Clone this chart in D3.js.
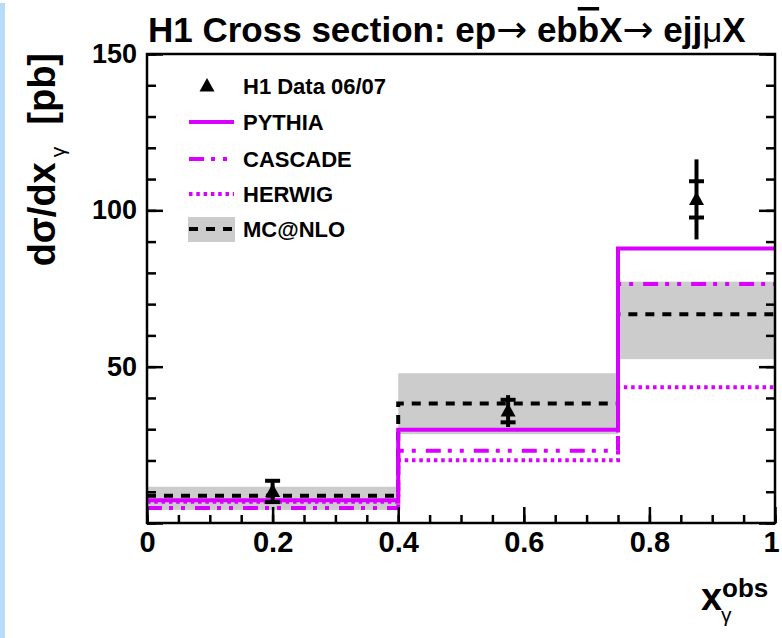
<!DOCTYPE html>
<html>
<head>
<meta charset="utf-8">
<script src="https://cdn.jsdelivr.net/npm/d3@7"></script>
<style>
  body { margin: 0; background: #fff; }
  svg { display: block; font-family: "Liberation Sans", Arial, Helvetica, sans-serif; }
</style>
</head>
<body>
<script>
// bins in x_gamma^obs
var binEdges = [0, 0.4, 0.75, 1.0];
var binCentres = [0.2, 0.575, 0.875];

// H1 data 06/07
var dataVal = [10.1, 35.8, 103.5];
var statErr = [3.4, 3.6, 5.8];
var totErr = [3.8, 5.1, 12.8];

// MC predictions
var pythia = [7.3, 29.8, 87.8];
var cascade = [4.8, 23.1, 76.4];
var herwig = [6.8, 20.1, 43.4];
var mcnlo = [8.7, 38.2, 66.8];
var mcnloLow = [4.2, 28.4, 52.4];
var mcnloHigh = [11.6, 47.9, 77.2];

var yMajor = [0, 50, 100, 150];
var yMinor = d3.range(0, 151, 10);
var xMajor = [0, 0.2, 0.4, 0.6, 0.8, 1.0];
var xMinor = d3.range(0, 1.0001, 0.05);

var legendLabels = ["H1 Data 06/07", "PYTHIA", "CASCADE", "HERWIG", "MC@NLO"];

// set the dimensions and margins of the graph
var W = 782, H = 638;
var margin = {top: 54, right: 7, bottom: 115, left: 147},
    width = W - margin.left - margin.right,
    height = H - margin.top - margin.bottom;

var magenta = "#d900ff";

var x = d3.scaleLinear().domain([0, 1]).range([0, width]);
var y = d3.scaleLinear().domain([0, 150]).range([height, 0]);

var root = d3.select("body").append("svg")
    .attr("width", W)
    .attr("height", H);

// light blue strip on the left edge
root.append("rect")
    .attr("x", 0).attr("y", 3)
    .attr("width", 5).attr("height", H - 3)
    .attr("fill", "#b9dbfa");

var svg = root.append("g")
    .attr("transform", "translate(" + margin.left + "," + margin.top + ")");

svg.append("clipPath").attr("id", "clip")
  .append("rect").attr("width", width).attr("height", height);

var plot = svg.append("g").attr("clip-path", "url(#clip)");

// MC@NLO uncertainty band
plot.selectAll(".band")
    .data(mcnloLow)
  .enter().append("rect")
    .attr("class", "band")
    .attr("x", function(d, i) { return x(binEdges[i]); })
    .attr("width", function(d, i) { return x(binEdges[i + 1]) - x(binEdges[i]); })
    .attr("y", function(d, i) { return y(mcnloHigh[i]); })
    .attr("height", function(d, i) { return y(d) - y(mcnloHigh[i]); })
    .attr("fill", "#cccccc");

// step histogram points from bin edges + values
function steps(vals) {
  var pts = [];
  vals.forEach(function(v, i) {
    pts.push([binEdges[i], v]);
    pts.push([binEdges[i + 1], v]);
  });
  return pts;
}

var line = d3.line()
    .x(function(d) { return x(d[0]); })
    .y(function(d) { return y(d[1]); });

var series = [
  {vals: mcnlo, color: "#000", dash: "9,8"},
  {vals: herwig, color: magenta, dash: "3.5,3.8"},
  {vals: cascade, color: magenta, dash: "15,7,4,8,4,10"},
  {vals: pythia, color: magenta, dash: null}
];

series.forEach(function(s) {
  plot.append("path")
      .attr("d", line(steps(s.vals)))
      .attr("fill", "none")
      .attr("stroke", s.color)
      .attr("stroke-width", 4)
      .attr("stroke-dasharray", s.dash);
});

// data points with error bars
var pts = plot.selectAll(".pt")
    .data(dataVal)
  .enter().append("g")
    .attr("class", "pt")
    .attr("transform", function(d, i) { return "translate(" + x(binCentres[i]) + ",0)"; });

pts.append("line")
    .attr("y1", function(d, i) { return y(d + totErr[i]); })
    .attr("y2", function(d, i) { return y(d - totErr[i]); })
    .attr("stroke", "#000").attr("stroke-width", 4);

pts.append("line")
    .attr("x1", -7.5).attr("x2", 7.5)
    .attr("y1", function(d, i) { return y(d + statErr[i]); })
    .attr("y2", function(d, i) { return y(d + statErr[i]); })
    .attr("stroke", "#000").attr("stroke-width", 4);

pts.append("line")
    .attr("x1", -7.5).attr("x2", 7.5)
    .attr("y1", function(d, i) { return y(d - statErr[i]); })
    .attr("y2", function(d, i) { return y(d - statErr[i]); })
    .attr("stroke", "#000").attr("stroke-width", 4);

var tri = "M0,-8L7.5,5.5L-7.5,5.5Z";
pts.append("path")
    .attr("d", tri)
    .attr("transform", function(d) { return "translate(0," + y(d) + ")"; })
    .attr("fill", "#000");

// axes
function styleAxis(g, fs) {
  g.select(".domain").remove();
  g.selectAll(".tick line").attr("stroke", "#000").attr("stroke-width", 2.5);
  g.selectAll("text")
      .attr("fill", "#000")
      .style("font-family", "'Liberation Sans', Arial, sans-serif")
      .style("font-weight", "bold")
      .style("font-size", fs + "px");
}

// minor ticks
svg.append("g")
    .call(d3.axisLeft(y).tickValues(yMinor).tickSize(-9).tickFormat(""))
    .call(styleAxis, 27);
svg.append("g")
    .attr("transform", "translate(" + width + ",0)")
    .call(d3.axisRight(y).tickValues(yMinor).tickSize(-9).tickFormat(""))
    .call(styleAxis, 27);
svg.append("g")
    .attr("transform", "translate(0," + height + ")")
    .call(d3.axisBottom(x).tickValues(xMinor).tickSize(-8).tickFormat(""))
    .call(styleAxis, 27);

// major ticks + labels (no label at y = 0)
svg.append("g")
    .call(d3.axisLeft(y).tickValues(yMajor).tickSize(-16).tickPadding(10)
          .tickFormat(function(d) { return d === 0 ? "" : d; }))
    .call(styleAxis, 27);
svg.append("g")
    .attr("transform", "translate(" + width + ",0)")
    .call(d3.axisRight(y).tickValues(yMajor).tickSize(-16).tickFormat(""))
    .call(styleAxis, 27);
var xAxisG = svg.append("g")
    .attr("transform", "translate(0," + height + ")")
    .call(d3.axisBottom(x).tickValues(xMajor).tickSize(-16).tickPadding(8)
          .tickFormat(function(d) { return d === 0 ? "0" : d === 1 ? "1" : d3.format(".1f")(d); }))
    .call(styleAxis, 29);
// last label sits against the right edge
xAxisG.selectAll(".tick text").filter(function(d) { return d === 1; }).attr("dx", -4);

// frame
svg.append("rect")
    .attr("width", width).attr("height", height)
    .attr("fill", "none")
    .attr("stroke", "#000")
    .attr("stroke-width", 2.5);

// title
var title = root.append("text")
    .attr("x", 148).attr("y", 42)
    .style("font-size", "35px")
    .style("font-weight", "bold")
    .attr("fill", "#000");
title.append("tspan").text("H1 Cross section: ep");
title.append("tspan").style("font-weight", "normal").style("font-family", "'DejaVu Sans'")
    .style("font-size", "37px").text("\u2192");
title.append("tspan").text(" eb");
title.append("tspan").style("text-decoration", "overline").text("b");
title.append("tspan").text("X");
title.append("tspan").style("font-weight", "normal").style("font-family", "'DejaVu Sans'")
    .style("font-size", "37px").text("\u2192");
title.append("tspan").text(" ejj");
title.append("tspan").style("font-weight", "normal").text("\u03bc");
title.append("tspan").text("X");

// y axis title
var ytitle = root.append("text")
    .attr("transform", "translate(55,53) rotate(-90)")
    .attr("text-anchor", "end")
    .style("font-size", "38px")
    .style("font-weight", "bold")
    .attr("fill", "#000");
ytitle.append("tspan").text("d\u03c3/dx");
ytitle.append("tspan").attr("dy", 10).attr("dx", 5).style("font-size", "21px").style("font-weight", "normal").text("\u03b3");
ytitle.append("tspan").attr("dy", -10).attr("dx", 22).text("[pb]");

// x axis title
var xtitle = root.append("g");
xtitle.append("text")
    .attr("x", 701).attr("y", 610)
    .style("font-size", "38px").style("font-weight", "bold")
    .text("x");
xtitle.append("text")
    .attr("x", 721).attr("y", 622)
    .style("font-size", "21px")
    .text("\u03b3");
xtitle.append("text")
    .attr("x", 722).attr("y", 597)
    .style("font-size", "26px").style("font-weight", "bold")
    .text("obs");

// legend
var legRows = [86, 122, 159, 194, 229];
var leg = root.append("g");

leg.append("rect")
    .attr("x", 188).attr("y", 217).attr("width", 47).attr("height", 25)
    .attr("fill", "#cccccc");

leg.append("path")
    .attr("d", tri)
    .attr("transform", "translate(207," + legRows[0] + ")")
    .attr("fill", "#000");

var legSeries = [
  {color: magenta, dash: null, row: 1},
  {color: magenta, dash: "15,7,4,8,4,10", row: 2},
  {color: magenta, dash: "3.5,3.8", row: 3},
  {color: "#000", dash: "9,8", row: 4}
];
legSeries.forEach(function(s) {
  leg.append("line")
      .attr("x1", 189).attr("x2", 234)
      .attr("y1", legRows[s.row]).attr("y2", legRows[s.row])
      .attr("stroke", s.color).attr("stroke-width", 4)
      .attr("stroke-dasharray", s.dash);
});

leg.selectAll(".ltext")
    .data(legendLabels)
  .enter().append("text")
    .attr("class", "ltext")
    .attr("x", 243)
    .attr("y", function(d, i) { return legRows[i] + 8; })
    .style("font-size", "22px")
    .style("font-weight", "bold")
    .text(function(d) { return d; });
</script>
</body>
</html>
